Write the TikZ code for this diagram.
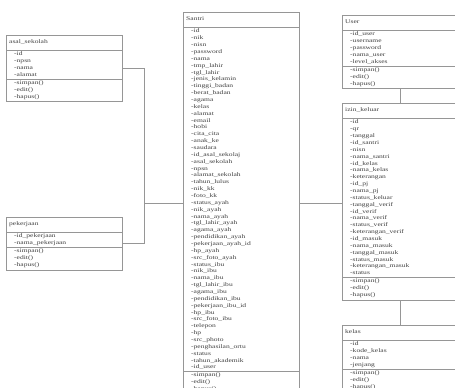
\documentclass[tikz,border=0pt]{standalone}
\usepackage{fontspec}
\newfontfamily\umlfont[FakeStretch=1.35]{Liberation Serif}
\usetikzlibrary{calc}
\definecolor{umlgray}{RGB}{150,150,150}
\tikzset{
 umlbox/.style={draw=umlgray, line width=0.8pt, rectangle, minimum width=116pt, inner sep=0pt, fill=white},
 umlline/.style={draw=umlgray, line width=0.8pt},
 umltext/.style={anchor=west, inner sep=0pt, text height=3.9pt, text depth=1.2pt, text=black!75, font=\umlfont\fontsize{5.6}{6.86}\selectfont},
}
\newcommand\umlclass[8]{%
 \pgfmathsetmacro\umlH{32+(#5+#7-2)*6.86}%
 \node[umlbox, minimum height=\umlH pt, anchor=north west] (#1) at (#2,#3) {};
 \draw[umlline] ([yshift=-15pt]#1.north west) -- ([yshift=-15pt]#1.north east);
 \node[umltext] (#1-title) at ([xshift=3pt,yshift=-7.5pt]#1.north west) {#4};
 \foreach \t [count=\i from 0] in {#6}{
   \pgfmathsetmacro\yy{19.5+\i*6.86}
   \node[umltext] (#1-a\i) at ([xshift=8pt,yshift=-\yy pt]#1.north west) {\t};
 }
 \pgfmathsetmacro\ysep{19.5+(#5-1)*6.86+4}
 \draw[umlline] ([yshift=-\ysep pt]#1.north west) -- ([yshift=-\ysep pt]#1.north east);
 \foreach \t [count=\i from 0] in {#8}{
   \pgfmathsetmacro\yy{\ysep+4+\i*6.86}
   \node[umltext] (#1-m\i) at ([xshift=8pt,yshift=-\yy pt]#1.north west) {\t};
 }
}
\begin{document}
\begin{tikzpicture}[x=1pt,y=-1pt]
\useasboundingbox (0,0) rectangle (455,388);
\fill[white] (0,0) rectangle (455,388);
\clip (0,0) rectangle (455,388);

\umlclass{asal}{6}{35}{asal\_sekolah}{4}{-id,-npsn,-nama,-alamat}{3}{-simpan(),-edit(),-hapus()}
\umlclass{pekerjaan}{6}{217}{pekerjaan}{2}{-id\_pekerjaan,-nama\_pekerjaan}{3}{-simpan(),-edit(),-hapus()}
\umlclass{santri}{183}{12}{Santri}{50}{-id,-nik,-nisn,-password,-nama,-tmp\_lahir,-tgl\_lahir,-jenis\_kelamin,-tinggi\_badan,-berat\_badan,-agama,-kelas,-alamat,-email,-hobi,-cita\_cita,-anak\_ke,-saudara,-id\_asal\_sekolaj,-asal\_sekolah,-npsn,-alamat\_sekolah,-tahun\_lulus,-nik\_kk,-foto\_kk,-status\_ayah,-nik\_ayah,-nama\_ayah,-tgl\_lahir\_ayah,-agama\_ayah,-pendidikan\_ayah,-pekerjaan\_ayah\_id,-hp\_ayah,-src\_foto\_ayah,-status\_ibu,-nik\_ibu,-nama\_ibu,-tgl\_lahir\_ibu,-agama\_ibu,-pendidikan\_ibu,-pekerjaan\_ibu\_id,-hp\_ibu,-src\_foto\_ibu,-telepon,-hp,-src\_photo,-penghasilan\_ortu,-status,-tahun\_akademik,-id\_user}{3}{-simpan(),-edit(),-hapus()}
\umlclass{user}{342}{15}{User}{5}{-id\_user,-username,-password,-nama\_user,-level\_akses}{3}{-simpan(),-edit(),-hapus()}
\umlclass{izin}{342}{103}{izin\_keluar}{23}{-id,-qr,-tanggal,-id\_santri,-nisn,-nama\_santri,-id\_kelas,-nama\_kelas,-keterangan,-id\_pj,-nama\_pj,-status\_keluar,-tanggal\_verif,-id\_verif,-nama\_verif,-status\_verif,-keterangan\_verif,-id\_masuk,-nama\_masuk,-tanggal\_masuk,-status\_masuk,-keterangan\_masuk,-status}{3}{-simpan(),-edit(),-hapus()}
\umlclass{kelas}{342}{325}{kelas}{4}{-id,-kode\_kelas,-nama,-jenjang}{3}{-simpan(),-edit(),-hapus()}

\coordinate (junction) at ($(santri.west)+(-39pt,0)$);
\draw[umlline] (asal.east) -| (junction) -- (santri.west);
\draw[umlline] (pekerjaan.east) -| (junction);
\draw[umlline] (santri.east) -- (santri.east -| izin.west);
\draw[umlline] (user.south) -- (izin.north);
\draw[umlline] (izin.south) -- (kelas.north);
\end{tikzpicture}
\end{document}
